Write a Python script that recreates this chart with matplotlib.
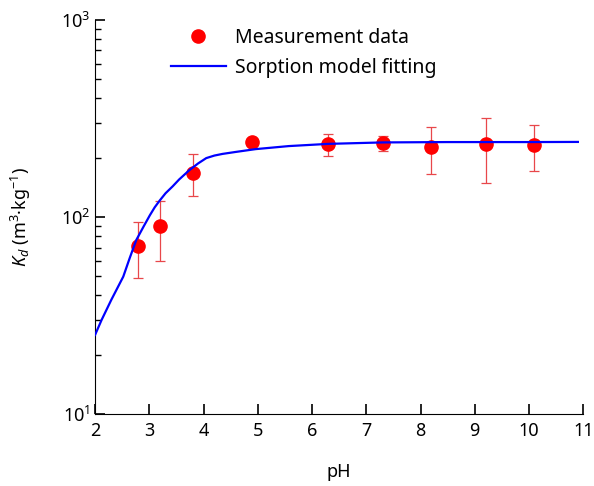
import numpy as np
import matplotlib
matplotlib.use("Agg")
import matplotlib.pyplot as plt

plt.rcParams['font.family'] = ['Noto Sans', 'DejaVu Sans']
plt.rcParams['mathtext.fontset'] = 'custom'
plt.rcParams['mathtext.rm'] = 'Noto Sans'
plt.rcParams['mathtext.it'] = 'Noto Sans:italic'

# measured Kd values with error bars
ph_meas = [2.8, 3.2, 3.8, 4.9, 6.3, 7.3, 8.2, 9.2, 10.1]
kd_meas = [71, 90, 168, 241, 234, 238, 226, 234, 231]
kd_upper = [94, 121, 209, 241, 263, 258, 286, 317, 292]
kd_lower = [49, 60, 128, 241, 203, 217, 166, 149, 171]

# sorption model curve
ph_model = [2.0, 2.12, 2.3, 2.52, 2.64, 2.76, 2.9, 3.01, 3.1, 3.19, 3.3, 3.43, 3.55,
            3.74, 3.9, 4.05, 4.2, 4.35, 4.6, 4.96, 5.57, 6.3, 7.3, 8.5, 10.0, 10.9]
kd_model = [25.2, 30, 38, 49.8, 62, 76.4, 90, 102, 112, 121, 132, 143, 155,
            173, 187, 199, 205, 209, 214, 221, 229, 235, 239, 240, 240, 240.4]

fig = plt.figure(figsize=(5.94, 4.86), dpi=100)
ax = fig.add_axes([0.16, 0.148, 0.822, 0.811])

yerr = [np.array(kd_meas) - np.array(kd_lower), np.array(kd_upper) - np.array(kd_meas)]
ax.errorbar(ph_meas, kd_meas, yerr=yerr, fmt='none', ecolor='#e8474a', elinewidth=0.9,
            capsize=3.5, capthick=0.9, zorder=2)
ax.plot(ph_meas, kd_meas, 'o', color='#ff0000', markersize=9.5, zorder=3,
        label='Measurement data')
ax.plot(ph_model, kd_model, '-', color='#0000ff', lw=1.6, zorder=4,
        label='Sorption model fitting')

ax.set_yscale('log')
ax.set_xlim(2, 11)
ax.set_ylim(10, 1000)
ax.set_xticks(np.arange(2, 12, 1))
ax.spines['top'].set_visible(False)
ax.spines['right'].set_visible(False)
ax.tick_params(axis='both', which='major', direction='in', length=7, width=1.2, labelsize=13)
ax.tick_params(axis='y', which='minor', direction='in', length=4, width=1.0)
ax.tick_params(axis='x', pad=6)

ax.set_xlabel('pH', fontsize=13, labelpad=16)
ax.set_ylabel(r'$\mathit{K}_{\mathit{d}}$ (m$^3$·kg$^{-1}$)', fontsize=13, labelpad=20)

ax.legend(loc='upper left', bbox_to_anchor=(0.12, 1.025), frameon=False, fontsize=14,
          handlelength=2.8, handletextpad=0.5, labelspacing=0.55)

fig.savefig('out.png', dpi=100)
